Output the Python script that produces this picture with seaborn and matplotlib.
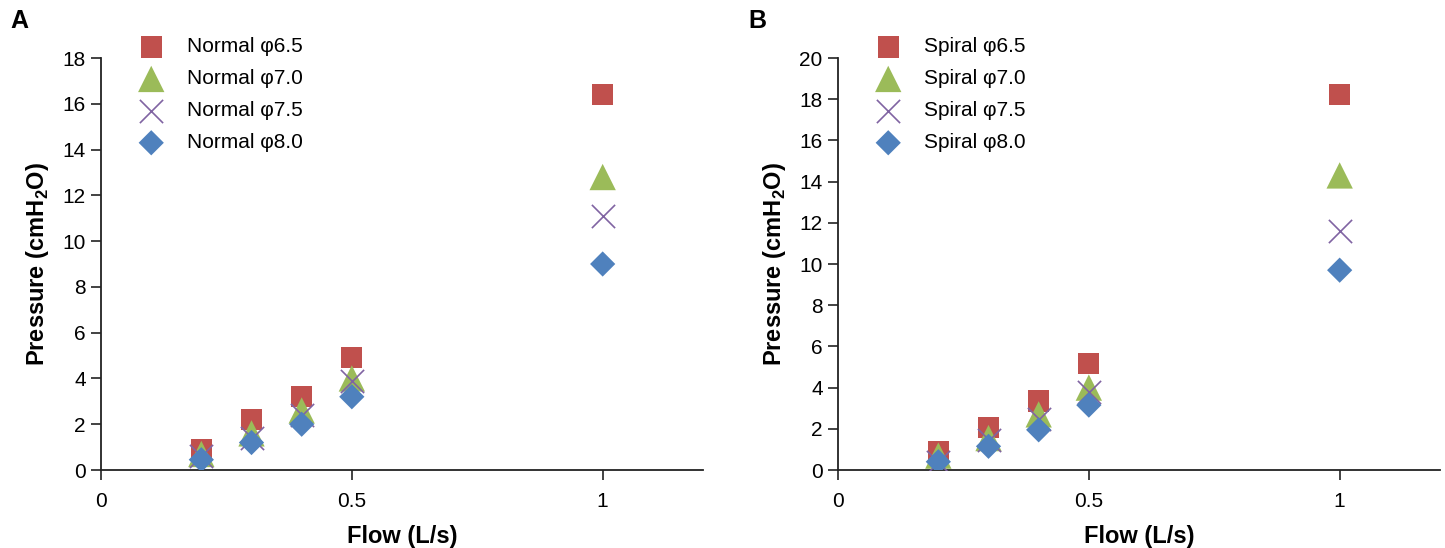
import matplotlib
matplotlib.use("Agg")
import matplotlib.pyplot as plt
import seaborn as sns
import pandas as pd

flow = [0.2, 0.3, 0.4, 0.5, 1.0]

normal_labels = ["Normal φ6.5", "Normal φ7.0", "Normal φ7.5", "Normal φ8.0"]
normal_65 = [0.9, 2.2, 3.2, 4.9, 16.4]
normal_70 = [0.7, 1.6, 2.6, 4.0, 12.8]
normal_75 = [0.6, 1.4, 2.4, 3.9, 11.1]
normal_80 = [0.45, 1.2, 2.0, 3.2, 9.0]

spiral_labels = ["Spiral φ6.5", "Spiral φ7.0", "Spiral φ7.5", "Spiral φ8.0"]
spiral_65 = [0.9, 2.05, 3.35, 5.15, 18.25]
spiral_70 = [0.7, 1.55, 2.7, 4.0, 14.3]
spiral_75 = [0.4, 1.45, 2.5, 3.8, 11.6]
spiral_80 = [0.4, 1.15, 1.95, 3.15, 9.7]

x_ticks = [0, 0.5, 1]
x_ticklabels = ["0", "0.5", "1"]
left_yticks = list(range(0, 19, 2))
right_yticks = list(range(0, 21, 2))

sns.set_theme(style="white")
plt.rcParams["font.family"] = ["Liberation Sans", "DejaVu Sans"]
plt.rcParams["mathtext.fontset"] = "custom"
plt.rcParams["mathtext.rm"] = "Liberation Sans"
plt.rcParams["mathtext.bf"] = "Liberation Sans:bold"
plt.rcParams["text.color"] = "black"
plt.rcParams["axes.labelcolor"] = "black"

colors = ["#C0504D", "#9BBB59", "#8064A2", "#4F81BD"]
markers = ["s", "^", "x", "D"]
sizes = [230, 360, 280, 165]

fig = plt.figure(figsize=(14.45, 5.48), dpi=100)
axA = fig.add_axes([101/1445, 78/548, 602/1445, 412/548])
axB = fig.add_axes([838/1445, 78/548, 602/1445, 412/548])


def draw(ax, labels, series, ymax, yticks, legx):
    frames = []
    for lab, vals in zip(labels, series):
        frames.append(pd.DataFrame({"Flow": flow, "Pressure": vals, "Series": lab}))
    df = pd.concat(frames, ignore_index=True)
    handles = []
    for i, lab in enumerate(labels):
        sub = df[df["Series"] == lab]
        kw = dict(color=colors[i], marker=markers[i], s=sizes[i], zorder=3 + i)
        if markers[i] == "x":
            kw["linewidth"] = 1.2
        else:
            kw["edgecolor"] = "none"
        sns.scatterplot(data=sub, x="Flow", y="Pressure", ax=ax, legend=False, **kw)
        handles.append(ax.collections[-1])
    ax.set_xlim(0, 1.2)
    ax.set_ylim(0, ymax)
    ax.set_xticks(x_ticks)
    ax.set_xticklabels(x_ticklabels)
    ax.set_yticks(yticks)
    ax.set_yticklabels([str(t) for t in yticks])
    for s in ["top", "right"]:
        ax.spines[s].set_visible(False)
    for s in ["left", "bottom"]:
        ax.spines[s].set_color("#222222")
        ax.spines[s].set_linewidth(1.3)
    ax.tick_params(axis="both", which="major", direction="out", length=7, width=1.2,
                   colors="#222222", labelsize=15, labelcolor="black",
                   left=True, bottom=True, pad=4)
    ax.tick_params(axis="x", pad=9)
    ax.set_xlabel("Flow (L/s)", fontsize=17, fontweight="bold", labelpad=10)
    ax.set_ylabel(r"Pressure (cmH$_\mathbf{2}$O)", fontsize=17, fontweight="bold", labelpad=8)
    ax.grid(False)
    ax.legend(handles, labels, loc="upper left", bbox_to_anchor=(legx, 1.07),
              frameon=False, fontsize=15, handletextpad=0.7,
              labelspacing=0.62, borderaxespad=0)


draw(axA, normal_labels, [normal_65, normal_70, normal_75, normal_80], 18, left_yticks, 0.035)
draw(axB, spiral_labels, [spiral_65, spiral_70, spiral_75, spiral_80], 20, right_yticks, 0.035)

fig.text(10/1445, 1 - 21/548, "A", fontsize=18, fontweight="bold", va="center", ha="left")
fig.text(748/1445, 1 - 21/548, "B", fontsize=18, fontweight="bold", va="center", ha="left")

fig.savefig("out.png", dpi=100)
